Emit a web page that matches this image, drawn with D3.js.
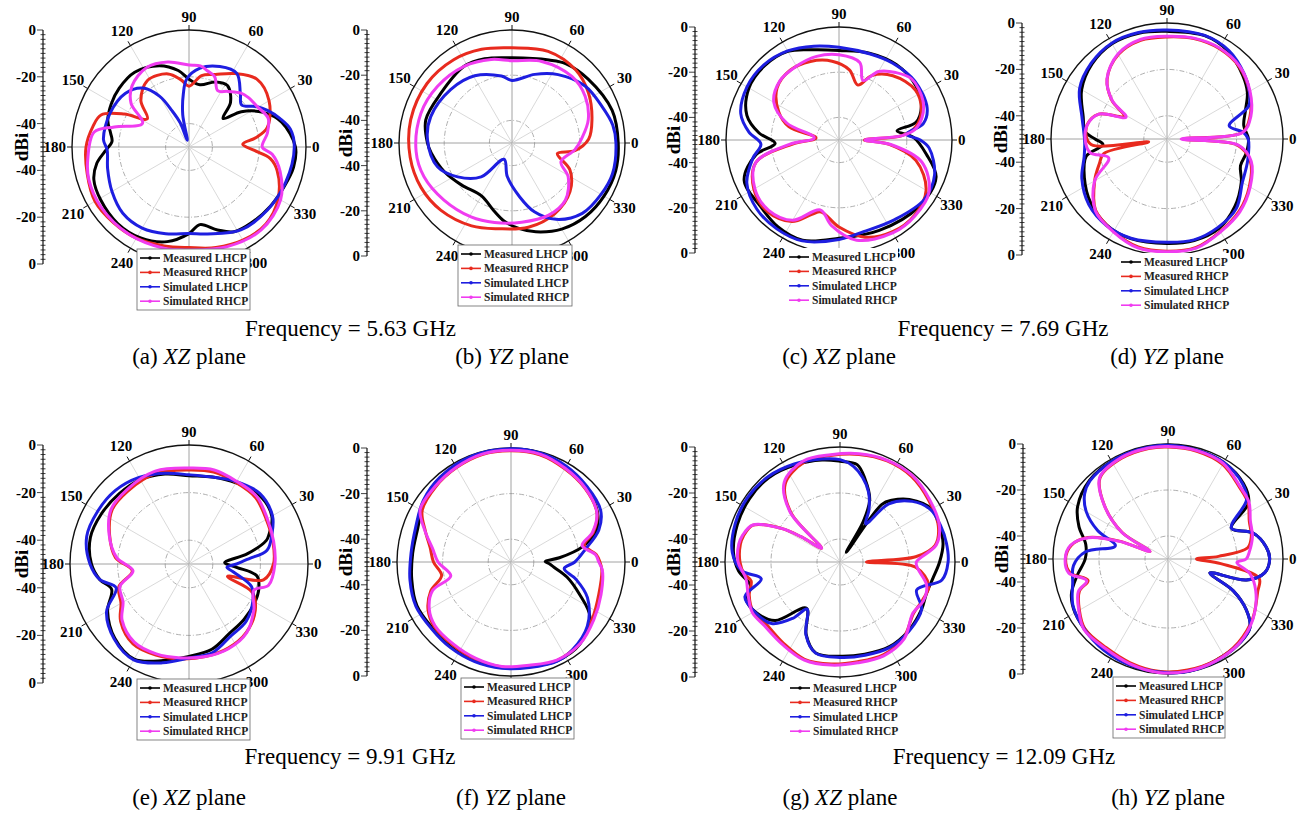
<!DOCTYPE html>
<html><head><meta charset="utf-8">
<script src="https://cdn.jsdelivr.net/npm/d3@7"></script>
<style>
body{margin:0;background:#fff;}
text{font-family:"Liberation Serif","Times New Roman",serif;}
</style></head><body>
<svg id="chart" width="1316" height="814"></svg>
<script>
// gain patterns, [angle in degrees, dBi]
const a_mL = [[0,-4.5],[15,-9],[25,-15],[34,-23],[40,-31],[47,-24],[58,-19],[68,-20],[80,-23],[90,-21],[98,-17],[110,-13],[126,-10.5],[140,-11],[151,-12],[162,-13.5],[170,-16],[176,-17],[183,-14],[190,-10],[199,-7],[211,-6],[227,-5.3],[242,-6],[257,-8.5],[270,-13],[278,-16.5],[289,-12.5],[298,-9],[310,-8],[324,-7],[337,-6],[349,-4.5]];
const a_mR = [[3,-27],[8,-21],[14,-15.5],[30,-10.5],[45,-9],[58,-13],[70,-17],[80,-19],[90,-24],[97,-21],[106,-17.5],[122,-16.5],[136,-21.4],[146,-28.5],[153,-19],[160,-10],[168,-8],[180,-6],[195,-5],[210,-3.6],[225,-4.3],[240,-5],[256,-6.4],[270,-7],[285,-5.5],[300,-4],[315,-3.5],[330,-6],[345,-11],[352,-15],[357,-22]];
const a_sL = [[0,-5],[10,-6],[17.5,-9.3],[25,-13],[31,-16.4],[38.6,-21.2],[46,-18.4],[57,-12.5],[69,-13.2],[82,-16],[92,-21],[96,-27],[101,-36],[104,-47],[110,-39],[115,-33],[120,-25],[128,-18],[140,-14.4],[157,-13.3],[175,-13.3],[182,-15],[195,-14],[210,-12],[225,-10],[240,-10],[255,-11.6],[270,-13],[282,-12],[302,-8.2],[321,-7],[340,-6]];
const a_sR = [[0,-18.7],[10,-16],[20,-14],[30,-16],[40,-17],[46,-18],[55,-21],[63,-23],[70,-18],[76.5,-16.5],[82,-15],[90,-15],[104,-12.6],[118,-11.5],[133,-14.3],[143,-19],[153,-27.7],[165,-17],[171,-9],[187,-6.4],[198,-5],[214,-4.5],[235,-4.7],[256,-5.4],[270,-6],[291,-4.4],[311,-3],[330,-4.8],[345,-9.7],[355,-14.3]];

const b_mL = [[0,-3],[18,-3.4],[40,-6],[56,-7.6],[66,-9.8],[90,-12.3],[108,-10.8],[122,-10],[145,-11.6],[165,-10.5],[180,-12.6],[187,-14],[203,-17.5],[220,-21],[240,-23],[255,-19],[265,-15],[275,-12],[285,-9.3],[300,-6],[315,-4],[330,-3],[345,-2.5]];
const b_mR = [[3,-16],[16,-13.2],[33,-9.6],[49,-7.1],[68.5,-6.4],[90,-7.9],[108,-6.4],[125,-5],[145,-4.1],[167,-4],[188,-4.5],[206,-5.2],[223.5,-6.7],[244,-9.2],[261,-11.6],[281,-12],[301,-13.4],[320,-16.5],[335,-21.7],[347,-29.4],[353,-22]];
const b_sL = [[0,-4],[10,-4.7],[22,-7],[38,-9],[56,-13.5],[71.6,-18],[90,-22.3],[99,-20],[119,-16],[139,-14],[162,-12.2],[178,-12.6],[197.7,-15.4],[212,-21.7],[227.7,-29.7],[244,-42],[262,-35],[278,-26],[288,-18],[300,-11],[315,-6],[330,-4.5],[343,-3.5]];
const b_sR = [[4,-19],[17,-14.7],[32.5,-11.6],[48,-10.4],[70,-11.6],[90,-13.6],[104,-11.9],[122,-10],[142.7,-8.6],[162,-7.6],[185,-7.4],[201,-8.3],[220,-10.7],[241,-12.6],[257.6,-14],[277,-14.7],[296.6,-14.2],[313,-15.4],[329,-21],[339,-26.8],[354,-22]];

const c_mL = [[2,-17],[9,-24],[13,-15],[22,-10.7],[34.7,-8.4],[52.8,-8.1],[70.7,-9.3],[90,-10.4],[105,-8.7],[120,-4.7],[135,-3.5],[150,-4],[165,-7.8],[175,-14.5],[183,-21.7],[190,-12.7],[203,-4.4],[220,-4.5],[235,-3],[250,-2.8],[270,-6.5],[294,-6.2],[320,-4],[339,-4],[351,-11]];
const c_sL = [[0,-14],[5,-20],[11,-12],[20,-8.5],[38,-7.5],[55,-8.5],[70,-9.5],[90,-9],[105,-7],[120,-4.5],[135,-3],[150,-3],[165,-5],[175,-10],[183,-15.4],[192,-11],[205,-5],[220,-2.5],[235,-2],[250,-2.5],[270,-6],[285,-8],[305,-7],[325,-4],[340,-5],[355,-10]];
const c_mR = [[0,-38.8],[4,-22],[10,-15.4],[20,-11.2],[33,-9.6],[50,-12.9],[63,-18],[71,-24.3],[81.6,-18.6],[95,-15],[110,-13],[125,-12.3],[140,-14.2],[155,-20.6],[165,-27],[175,-39.8],[185,-29.4],[195,-12],[210,-6.5],[225,-5.2],[240,-8.3],[250,-15],[256,-17.2],[270,-11.5],[285,-5.5],[300,-3],[315,-2.8],[330,-5.5],[345,-14.7],[355,-27.7]];
const c_sR = [[0,-38.5],[4,-22],[8,-16],[15,-12],[25,-9],[40,-8],[50,-11],[60,-15],[68,-21.6],[75,-14.5],[90,-12.3],[105,-11.7],[120,-12.3],[135,-13],[150,-16.7],[162,-25.7],[175,-39],[185,-28],[195,-12],[210,-7],[225,-6],[240,-9],[255,-18],[265,-12],[280,-5],[300,-2.5],[315,-2.5],[330,-4],[345,-12],[355,-27]];

const d_mL = [[0,-14.9],[10,-16.4],[20,-14],[30,-10],[40,-7.4],[55,-3.9],[70,-2.6],[90,-3.6],[105,-2.8],[120,-2.6],[135,-4.3],[150,-7.5],[165,-12.6],[175,-14.6],[180,-19],[185,-22.3],[192,-14.4],[205,-10.7],[220,-7.1],[235,-4.7],[250,-4.3],[270,-5],[285,-4.7],[300,-5.4],[315,-8.7],[330,-13],[340,-16.3],[350,-15.3]];
const d_sL = [[0,-15],[5,-17],[12,-22.6],[22,-12],[30,-9],[40,-6.5],[55,-3.5],[70,-2.5],[90,-3],[105,-2.5],[120,-2.3],[135,-3.8],[150,-6.5],[165,-12],[175,-14],[183,-14.5],[192,-13.5],[205,-9.5],[220,-6],[235,-4.5],[250,-4.5],[270,-5.5],[285,-5],[300,-6],[315,-7.7],[330,-12.5],[345,-14]];
const d_mR = [[0,-43],[5,-17.5],[15,-13],[30,-9],[45,-6],[60,-5],[75,-5.2],[90,-6],[105,-6],[120,-8],[135,-13.5],[145,-21],[152,-29],[160,-18.7],[170,-15],[180,-15.5],[185,-18],[189,-42],[193,-22],[200,-19],[210,-14],[225,-6.5],[240,-4],[255,-1.8],[270,-1.6],[285,-1.6],[300,-4],[315,-6],[330,-9],[345,-12.8],[355,-19.5]];
const d_sR = [[0,-43.9],[5,-17.3],[15,-12.6],[30,-8.7],[45,-5.7],[60,-4.7],[75,-5],[90,-5.7],[105,-5.6],[120,-7.7],[135,-13.4],[145,-21.2],[152,-30],[160,-18.7],[170,-15.1],[180,-14.7],[190,-16.3],[198,-23.6],[210,-14],[225,-6.3],[240,-3.8],[255,-1.4],[270,-1.4],[285,-1.3],[300,-3.8],[315,-5.6],[330,-8.6],[345,-12.4],[355,-19]];

const e_mL = [[2,-35],[10,-25],[17,-16],[20,-14.3],[30,-9.8],[45,-8.7],[60,-10.6],[75,-12.2],[90,-12.9],[105,-10.9],[120,-9.1],[135,-8.4],[150,-7.6],[165,-7.1],[180,-9],[190,-12],[198,-15.8],[210,-10.5],[225,-5.9],[240,-3.9],[255,-8],[270,-11.2],[285,-12.9],[300,-16.2],[315,-17.2],[330,-18],[340,-18.8],[350,-21],[356,-30]];
const e_sL = [[0,-30],[5,-24.8],[10,-16.7],[20,-12.9],[30,-9.5],[45,-8],[60,-10],[75,-12.2],[90,-12.5],[105,-10.5],[120,-8],[135,-6.3],[150,-5.7],[165,-5.5],[180,-8.4],[190,-12],[198,-17.8],[210,-10],[225,-5.5],[240,-3.5],[255,-7],[270,-10.5],[285,-11.5],[300,-15],[315,-16],[330,-19],[340,-22],[350,-31.2],[355,-34]];
const e_mR = [[0,-14.5],[15,-13.5],[30,-12.5],[45,-10.5],[60,-10.5],[75,-10],[90,-10.5],[110,-9.5],[130,-10],[145,-10.5],[160,-14.5],[175,-19],[187,-26],[198,-19],[210,-17],[220,-12.5],[235,-9],[250,-9.3],[265,-10],[280,-10.5],[295,-11],[310,-12.5],[325,-16],[336,-21],[342,-33],[348,-18]];
const e_sR = [[0,-13.9],[15,-13.2],[30,-12],[45,-9.8],[60,-9.9],[75,-9.1],[90,-9.7],[110,-8.5],[130,-9.3],[145,-10],[160,-14.3],[175,-19.5],[187,-26.3],[198,-19.5],[210,-18],[220,-13.3],[235,-9.9],[250,-9.8],[265,-10.4],[280,-10.5],[295,-10.7],[310,-12.3],[325,-16.7],[338,-20.6],[345,-15.4]];

const f_mL = [[1,-35],[5,-28.7],[12,-18],[20,-10.3],[30,-6.2],[45,-3.6],[60,-2],[75,-0.7],[90,-0.6],[110,-0.8],[130,-1.7],[145,-3.5],[160,-6.5],[175,-6.7],[190,-5.8],[205,-4.5],[220,-5],[235,-4.4],[250,-3.8],[265,-3.6],[280,-3.6],[295,-2.2],[310,-3],[325,-7.7],[335,-17],[345,-24.6],[353,-31],[357,-33]];
const f_sL = [[0,-22],[10,-16.7],[20,-9],[30,-4.6],[45,-3],[60,-1.5],[75,-0.5],[90,-0.3],[110,-0.5],[130,-1.5],[145,-3],[160,-5.5],[175,-6],[190,-5],[205,-4],[220,-4.5],[235,-4],[250,-3.5],[265,-3.2],[280,-3],[295,-2],[305,-3],[320,-6.3],[335,-13],[345,-20.4],[353,-26.5]];
const f_mR = [[0,-11],[5,-12.5],[13,-17],[20,-11.5],[30,-6.5],[45,-4.2],[60,-2.8],[75,-1.3],[90,-1.2],[105,-1.2],[120,-2.2],[135,-3.3],[150,-5],[160,-10],[170,-14],[180,-16],[191,-19],[200,-12.5],[210,-8],[220,-6],[235,-5.5],[250,-4.5],[265,-3.8],[280,-3.5],[295,-2.3],[310,-3.5],[325,-6.5],[340,-9],[355,-10]];
const f_sR = [[0,-11.5],[5,-12.8],[13,-18],[20,-12],[30,-6.5],[45,-4],[60,-2.5],[75,-1],[90,-1],[105,-1],[120,-2],[135,-3],[150,-4],[160,-9.8],[170,-15],[180,-18],[193,-22.9],[200,-13.4],[210,-8.6],[220,-6.5],[235,-6],[250,-5],[265,-4],[280,-4],[295,-2.5],[310,-3],[325,-5.7],[340,-8],[355,-9.8]];

const g_mL = [[0,-6.7],[10,-4.5],[20,-4],[30,-4],[42,-9.4],[50,-15],[54,-19],[57,-45],[60,-30],[64.5,-20],[73,-12.5],[80,-7],[90,-6.2],[100,-5],[115,-3.5],[130,-2],[145,-2],[160,-2.5],[175,-3.5],[185,-5.7],[195,-9.8],[202,-6.1],[211,-7.4],[222,-12],[234,-25.2],[245,-15.2],[255,-9.1],[270,-9],[285,-8.5],[300,-7.4],[315,-7.8],[330,-9],[340,-10],[350,-9]];
const g_sL = [[0,-3],[10,-3],[20,-3.5],[30,-4.5],[40,-9],[50,-17],[56,-30],[61,-24],[68,-17],[75,-12],[82,-8],[90,-5.5],[100,-4.5],[115,-3],[130,-1.5],[145,-1],[160,-1.5],[175,-3],[185,-7],[192,-15],[200,-6],[210,-7],[222,-10],[230,-18],[235,-25],[245,-15],[255,-9],[270,-8.5],[285,-8],[300,-7],[315,-7.5],[330,-9],[340,-14.5],[350,-5]];
const g_mR = [[0,-38.5],[4,-17],[10,-8],[20,-4.5],[35,-3],[50,-1.5],[65,-1.5],[80,-2.5],[95,-3.5],[110,-4],[125,-8.5],[135,-20],[143,-40],[147,-30],[150,-21],[157,-9],[165,-6.5],[170,-6],[180,-6.5],[187,-8],[192,-10.5],[200,-8],[210,-6.5],[220,-8],[235,-7],[250,-5],[265,-5.5],[280,-6],[295,-5.5],[310,-7],[325,-11],[335,-10.5],[345,-10],[356,-17]];
const g_sR = [[0,-16.8],[10,-7.5],[20,-4],[35,-2.5],[50,-1],[65,-1.2],[80,-2.2],[95,-3.2],[110,-3.3],[125,-7.7],[135,-19.4],[143,-40],[147,-30],[150,-21],[157,-8.8],[165,-6],[170,-5.3],[180,-5.7],[190,-8.5],[200,-7.5],[210,-6],[220,-7],[235,-6.3],[250,-4.6],[265,-5],[280,-5.5],[295,-5],[310,-6.5],[325,-11.3],[335,-10],[345,-11],[355,-16]];

const h_mL = [[0,-5.8],[7,-7],[17,-11.3],[26,-19.3],[35,-7.2],[45,-3.6],[60,-1.5],[75,-1],[90,-0.5],[105,-1],[120,-1],[135,-1.7],[150,-4.6],[160,-8.8],[170,-13.7],[180,-14],[190,-10],[200,-5.3],[210,-3.3],[225,-2.5],[240,-1.5],[255,-0.8],[270,-0.6],[285,-0.6],[300,-1.5],[311,-2],[320,-3.5],[327,-9.4],[334,-18.4],[341.6,-30.8],[345,-14.7],[352,-7.5]];
const h_sL = [[0,-5.8],[7,-7],[17,-11.3],[26,-19.3],[37,-7.2],[45,-4],[60,-1.5],[75,-1],[90,-0.5],[105,-0.7],[120,-1],[135,-2],[142,-4],[150,-9],[158,-17],[166,-26.4],[175,-14],[184,-8.8],[194,-7.3],[206,-4],[220,-2.5],[235,-1.5],[250,-1],[270,-0.5],[285,-0.5],[300,-1.2],[311,-2],[320,-3.5],[327,-9.4],[334,-18.4],[341.6,-30.8],[345,-14.7],[352,-7.5]];
const h_mR = [[0,-37.6],[3,-28],[8,-15],[15,-12.5],[25,-11],[35,-7.5],[45,-6],[60,-2.5],[75,-1.5],[90,-1.3],[100,-1.2],[115,-1.8],[130,-4],[140,-14],[150,-27],[157,-41.5],[160,-27],[165,-14],[172,-7.5],[180,-5.5],[188,-7],[195,-14],[200,-9],[210,-5.5],[220,-2.8],[235,-3],[250,-2],[265,-1],[280,-1],[295,-1.3],[310,-2.5],[325,-5],[340,-8.5],[348,-9.5],[355,-27]];
const h_sR = [[0,-16],[5,-14.5],[15,-12],[25,-10.5],[35,-7],[45,-5.6],[60,-2],[75,-1.2],[90,-1.1],[100,-1],[115,-1.5],[130,-3.8],[140,-13.9],[150,-26.9],[157,-41.5],[160,-27.6],[165,-14.3],[172,-7.2],[180,-5.3],[188,-6.4],[195,-13.4],[200,-8.5],[210,-5.2],[220,-2.3],[235,-2.5],[250,-1.5],[265,-0.5],[280,-0.5],[295,-1],[310,-2],[325,-4.8],[340,-9.4],[350,-13.9],[357,-20]];

const seriesNames = ["Measured LHCP", "Measured RHCP", "Simulated LHCP", "Simulated RHCP"];
const angleTicks = [0, 30, 60, 90, 120, 150, 180, 210, 240, 300, 330];
const radialTicks = [0, -20, -40];
const letters = ["a", "b", "c", "d", "e", "f", "g", "h"];
const planes = ["XZ", "YZ", "XZ", "YZ", "XZ", "YZ", "XZ", "YZ"];
const freqs = ["5.63", "7.69", "9.91", "12.09"];

const colors = ["#000000", "#e82a1e", "#1e1ee0", "#f03cf0"];

// layout for each of the 8 panels
const layout = [
  {cx: 189, cy: 147, R: 117, ax: 43, lx: 137, ly: 249, lw: 113, box: true},
  {cx: 512, cy: 143, R: 113, ax: 367, lx: 458, ly: 245, lw: 114, box: true},
  {cx: 839, cy: 140, R: 113, ax: 695, lx: 786, ly: 248, lw: 112, box: false},
  {cx: 1167, cy: 139, R: 116, ax: 1022, lx: 1118, ly: 253, lw: 112, box: false},
  {cx: 189, cy: 564, R: 119, ax: 43, lx: 137, ly: 679, lw: 113, box: true},
  {cx: 511, cy: 562, R: 114, ax: 367, lx: 461, ly: 678, lw: 113, box: true},
  {cx: 840, cy: 562, R: 115, ax: 695, lx: 787, ly: 679, lw: 112, box: false},
  {cx: 1168, cy: 559, R: 115, ax: 1023, lx: 1113, ly: 677, lw: 112, box: true}
];
const patterns = [
  [a_mL, a_mR, a_sL, a_sR], [b_mL, b_mR, b_sL, b_sR],
  [c_mL, c_mR, c_sL, c_sR], [d_mL, d_mR, d_sL, d_sR],
  [e_mL, e_mR, e_sL, e_sR], [f_mL, f_mR, f_sL, f_sR],
  [g_mL, g_mR, g_sL, g_sR], [h_mL, h_mR, h_sL, h_sR]
];

const svg = d3.select("#chart");
svg.append("rect").attr("width", 1316).attr("height", 814).attr("fill", "#fff");

const rad = deg => deg * Math.PI / 180;

layout.forEach((p, i) => {
  const r = d3.scaleLinear().domain([-50, 0]).range([0, p.R]);
  const g = svg.append("g").attr("transform", "translate(" + p.cx + "," + p.cy + ")");

  // grid rings
  g.selectAll(".ring").data([-20, -40]).enter().append("circle")
    .attr("r", d => r(d))
    .attr("fill", "none").attr("stroke", "#9a9a9a").attr("stroke-width", 0.8)
    .attr("stroke-dasharray", "5,2,1,2");

  // spokes every 30 degrees
  g.selectAll(".spoke").data(d3.range(0, 360, 30)).enter().append("line")
    .attr("x1", 0).attr("y1", 0)
    .attr("x2", d => r(0) * Math.cos(rad(d)))
    .attr("y2", d => -r(0) * Math.sin(rad(d)))
    .attr("stroke", d => d % 90 === 0 ? "#8c8c8c" : "#cfcfcf")
    .attr("stroke-width", 0.8);

  // outer ring and its ticks
  g.append("circle").attr("r", r(0)).attr("fill", "none")
    .attr("stroke", "#111").attr("stroke-width", 1.4);
  g.selectAll(".otick").data(d3.range(0, 360, 30)).enter().append("line")
    .attr("x1", d => r(0) * Math.cos(rad(d)))
    .attr("y1", d => -r(0) * Math.sin(rad(d)))
    .attr("x2", d => (r(0) + 5) * Math.cos(rad(d)))
    .attr("y2", d => -(r(0) + 5) * Math.sin(rad(d)))
    .attr("stroke", "#111").attr("stroke-width", 1);

  // the four patterns
  const line = d3.lineRadial()
    .angle(d => rad(90 - d[0]))
    .radius(d => r(d[1]))
    .curve(d3.curveCatmullRomClosed.alpha(0.5));
  patterns[i].forEach((s, k) => {
    const pts = s.slice().sort((u, v) => u[0] - v[0]);
    g.append("path").attr("d", line(pts))
      .attr("fill", "none").attr("stroke", colors[k])
      .attr("stroke-width", 3).attr("stroke-linejoin", "round");
  });

  // angle labels
  angleTicks.forEach(a => {
    const rr = a === 0 || a === 180 ? r(0) + 6 : a === 90 ? r(0) + 13 : r(0) + 17;
    g.append("text")
      .attr("x", rr * Math.cos(rad(a)))
      .attr("y", -rr * Math.sin(rad(a)))
      .attr("text-anchor", a === 0 ? "start" : a === 180 ? "end" : "middle")
      .attr("dominant-baseline", "central")
      .attr("font-size", 15).attr("font-weight", "bold")
      .text(a);
  });

  // radial dB axis on the left, mirrored above and below the centre
  const ax = svg.append("g");
  ax.append("line").attr("x1", p.ax).attr("x2", p.ax)
    .attr("y1", p.cy - r(0)).attr("y2", p.cy + r(0))
    .attr("stroke", "#111").attr("stroke-width", 1.2);
  d3.range(-50, 1, 2).forEach(v => {
    [-1, 1].forEach(sg => {
      const y = p.cy + sg * r(v);
      const major = radialTicks.includes(v);
      ax.append("line")
        .attr("x1", p.ax - (major ? 6 : 2.5)).attr("x2", p.ax + (major ? 0 : 2.5))
        .attr("y1", y).attr("y2", y)
        .attr("stroke", "#111").attr("stroke-width", 0.8);
    });
  });
  radialTicks.forEach(v => {
    [-1, 1].forEach(sg => {
      ax.append("text").attr("x", p.ax - 7).attr("y", p.cy + sg * r(v))
        .attr("text-anchor", "end").attr("dominant-baseline", "central")
        .attr("font-size", 15).attr("font-weight", "bold").text(v);
    });
  });
  ax.append("text")
    .attr("transform", "translate(" + (p.ax - 22) + "," + p.cy + ") rotate(-90)")
    .attr("text-anchor", "middle").attr("dominant-baseline", "central")
    .attr("font-size", 19).attr("font-weight", "bold").text("dBi");

  // legend
  const lg = svg.append("g").attr("transform", "translate(" + p.lx + "," + p.ly + ")");
  lg.append("rect").attr("width", p.lw).attr("height", 61)
    .attr("fill", "#fff")
    .attr("stroke", p.box ? "#666" : "none").attr("stroke-width", 0.8);
  seriesNames.forEach((nm, k) => {
    const y = 9 + k * 14.4;
    lg.append("line").attr("x1", 3).attr("x2", 23).attr("y1", y).attr("y2", y)
      .attr("stroke", colors[k]).attr("stroke-width", 1.6);
    lg.append("circle").attr("cx", 13).attr("cy", y).attr("r", 1.8).attr("fill", colors[k]);
    lg.append("text").attr("x", 26).attr("y", y)
      .attr("dominant-baseline", "central")
      .attr("font-size", 11.5).attr("font-weight", "bold").attr("fill", "#222")
      .text(nm);
  });

  // caption under the panel
  const cap = svg.append("text").attr("x", p.cx).attr("y", i < 4 ? 364 : 805)
    .attr("text-anchor", "middle").attr("font-size", 23);
  cap.append("tspan").text("(" + letters[i] + ") ");
  cap.append("tspan").attr("font-style", "italic").text(planes[i]);
  cap.append("tspan").text(" plane");
});

// frequency captions between each pair of panels
freqs.forEach((f, j) => {
  const a = layout[j * 2], b = layout[j * 2 + 1];
  svg.append("text")
    .attr("x", (a.cx + b.cx) / 2).attr("y", j < 2 ? 336 : 764)
    .attr("text-anchor", "middle").attr("font-size", 23)
    .text("Frequency = " + f + " GHz");
});
</script>
</body></html>
